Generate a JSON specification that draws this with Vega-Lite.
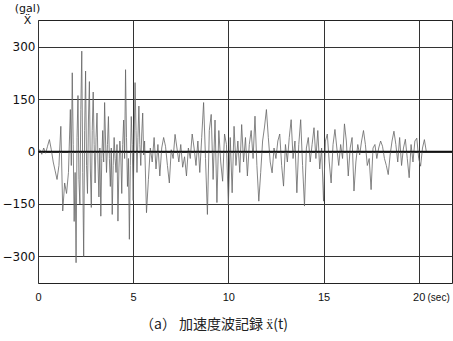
{
  "$schema": "https://vega.github.io/schema/vega-lite/v6.json",
  "width": 414,
  "height": 263,
  "autosize": "none",
  "padding": {"left": 38, "top": 20, "right": 1, "bottom": 58},
  "background": "white",
  "config": {
    "view": {"stroke": "#222", "strokeWidth": 1},
    "font": "Liberation Sans"
  },
  "title": {
    "text": "（a） 加速度波記録 ẍ(t)",
    "orient": "bottom",
    "anchor": "middle",
    "dx": -31,
    "font": "Noto Sans CJK JP",
    "fontSize": 14,
    "fontWeight": "normal",
    "color": "#222",
    "offset": 16
  },
  "data": {"values": [
    {"t":0.0,"a":0},{"t":0.1,"a":5},{"t":0.2,"a":-8},{"t":0.3,"a":10},{"t":0.4,"a":-5},{"t":0.5,"a":15},{"t":0.6,"a":34},{"t":0.7,"a":5},{"t":0.8,"a":-30},{"t":0.9,"a":-55},
    {"t":1.0,"a":-80},{"t":1.1,"a":-40},{"t":1.2,"a":72},{"t":1.3,"a":-170},{"t":1.4,"a":-90},{"t":1.5,"a":-120},{"t":1.6,"a":-60},{"t":1.7,"a":120},{"t":1.75,"a":-40},{"t":1.8,"a":225},{"t":1.85,"a":20},{"t":1.9,"a":-200},
    {"t":1.95,"a":-60},{"t":2.0,"a":-318},{"t":2.05,"a":40},{"t":2.1,"a":160},{"t":2.15,"a":-80},{"t":2.2,"a":-150},{"t":2.25,"a":120},{"t":2.3,"a":287},{"t":2.35,"a":-60},{"t":2.4,"a":-300},{"t":2.45,"a":60},{"t":2.5,"a":230},{"t":2.55,"a":-40},{"t":2.6,"a":-120},{"t":2.65,"a":90},{"t":2.7,"a":200},{"t":2.75,"a":-50},{"t":2.8,"a":-160},{"t":2.85,"a":60},{"t":2.9,"a":170},
    {"t":2.95,"a":20},{"t":3.0,"a":-90},{"t":3.05,"a":40},{"t":3.1,"a":110},{"t":3.15,"a":-30},{"t":3.2,"a":-130},{"t":3.25,"a":10},{"t":3.3,"a":-185},{"t":3.35,"a":-20},{"t":3.4,"a":60},{"t":3.45,"a":-30},{"t":3.5,"a":140},{"t":3.55,"a":30},{"t":3.6,"a":-60},{"t":3.65,"a":20},{"t":3.7,"a":100},{"t":3.75,"a":-20},{"t":3.8,"a":-100},{"t":3.85,"a":10},{"t":3.9,"a":-180},
    {"t":3.95,"a":-40},{"t":4.0,"a":40},{"t":4.05,"a":-20},{"t":4.1,"a":-60},{"t":4.15,"a":20},{"t":4.2,"a":-199},{"t":4.25,"a":-50},{"t":4.3,"a":30},{"t":4.35,"a":-10},{"t":4.4,"a":-120},{"t":4.45,"a":20},{"t":4.5,"a":90},{"t":4.55,"a":-20},{"t":4.6,"a":234},{"t":4.65,"a":40},{"t":4.7,"a":-100},{"t":4.75,"a":-20},{"t":4.8,"a":-251},{"t":4.85,"a":-40},{"t":4.9,"a":100},
    {"t":4.95,"a":20},{"t":5.0,"a":-140},{"t":5.05,"a":30},{"t":5.1,"a":197},{"t":5.15,"a":60},{"t":5.2,"a":-60},{"t":5.25,"a":40},{"t":5.3,"a":130},{"t":5.35,"a":20},{"t":5.4,"a":-40},{"t":5.45,"a":50},{"t":5.5,"a":110},{"t":5.55,"a":-10},{"t":5.6,"a":30},{"t":5.7,"a":-175},{"t":5.8,"a":-80},{"t":5.9,"a":10},
    {"t":6.0,"a":-30},{"t":6.1,"a":40},{"t":6.2,"a":-50},{"t":6.3,"a":20},{"t":6.4,"a":-70},{"t":6.5,"a":10},{"t":6.6,"a":40},{"t":6.7,"a":15},{"t":6.8,"a":-40},{"t":6.9,"a":-90},
    {"t":7.0,"a":5},{"t":7.1,"a":-20},{"t":7.2,"a":49},{"t":7.3,"a":10},{"t":7.4,"a":-30},{"t":7.5,"a":20},{"t":7.6,"a":-45},{"t":7.7,"a":-15},{"t":7.8,"a":-70},{"t":7.9,"a":10},
    {"t":8.0,"a":-20},{"t":8.1,"a":50},{"t":8.2,"a":10},{"t":8.3,"a":-40},{"t":8.4,"a":30},{"t":8.5,"a":-60},{"t":8.6,"a":40},{"t":8.7,"a":140},{"t":8.8,"a":-20},{"t":8.9,"a":-180},
    {"t":9.0,"a":60},{"t":9.1,"a":106},{"t":9.2,"a":-80},{"t":9.3,"a":90},{"t":9.4,"a":-146},{"t":9.5,"a":60},{"t":9.6,"a":-30},{"t":9.7,"a":-85},{"t":9.8,"a":50},{"t":9.9,"a":20},
    {"t":10.0,"a":-151},{"t":10.1,"a":40},{"t":10.2,"a":-118},{"t":10.3,"a":72},{"t":10.4,"a":-40},{"t":10.5,"a":30},{"t":10.6,"a":-60},{"t":10.7,"a":77},{"t":10.8,"a":-30},{"t":10.9,"a":40},
    {"t":11.0,"a":-70},{"t":11.1,"a":20},{"t":11.2,"a":60},{"t":11.3,"a":-20},{"t":11.4,"a":101},{"t":11.5,"a":-40},{"t":11.6,"a":-142},{"t":11.7,"a":-60},{"t":11.8,"a":30},{"t":11.9,"a":70},
    {"t":12.0,"a":120},{"t":12.1,"a":40},{"t":12.2,"a":-30},{"t":12.3,"a":-61},{"t":12.4,"a":10},{"t":12.5,"a":-20},{"t":12.6,"a":30},{"t":12.7,"a":50},{"t":12.8,"a":-40},{"t":12.9,"a":-99},
    {"t":13.0,"a":20},{"t":13.1,"a":-30},{"t":13.2,"a":40},{"t":13.3,"a":91},{"t":13.4,"a":-20},{"t":13.5,"a":30},{"t":13.6,"a":-118},{"t":13.7,"a":20},{"t":13.8,"a":91},{"t":13.9,"a":-40},
    {"t":14.0,"a":-156},{"t":14.1,"a":10},{"t":14.2,"a":40},{"t":14.3,"a":-30},{"t":14.4,"a":20},{"t":14.5,"a":68},{"t":14.6,"a":-20},{"t":14.7,"a":60},{"t":14.8,"a":-50},{"t":14.9,"a":10},
    {"t":15.0,"a":-142},{"t":15.1,"a":30},{"t":15.2,"a":50},{"t":15.3,"a":-30},{"t":15.4,"a":-90},{"t":15.5,"a":20},{"t":15.6,"a":63},{"t":15.7,"a":10},{"t":15.8,"a":-40},{"t":15.9,"a":20},
    {"t":16.0,"a":-20},{"t":16.1,"a":79},{"t":16.2,"a":30},{"t":16.3,"a":-70},{"t":16.4,"a":10},{"t":16.5,"a":40},{"t":16.6,"a":-113},{"t":16.7,"a":-30},{"t":16.8,"a":20},{"t":16.9,"a":-10},
    {"t":17.0,"a":30},{"t":17.1,"a":60},{"t":17.2,"a":20},{"t":17.3,"a":-40},{"t":17.4,"a":-20},{"t":17.5,"a":-109},{"t":17.6,"a":10},{"t":17.7,"a":20},{"t":17.8,"a":-20},{"t":17.9,"a":10},
    {"t":18.0,"a":30},{"t":18.1,"a":15},{"t":18.2,"a":-20},{"t":18.3,"a":-40},{"t":18.4,"a":-66},{"t":18.5,"a":-10},{"t":18.6,"a":30},{"t":18.7,"a":58},{"t":18.8,"a":20},{"t":18.9,"a":-30},
    {"t":19.0,"a":40},{"t":19.1,"a":-40},{"t":19.2,"a":10},{"t":19.3,"a":35},{"t":19.4,"a":-20},{"t":19.5,"a":-75},{"t":19.6,"a":20},{"t":19.7,"a":-30},{"t":19.8,"a":30},{"t":19.9,"a":38},
    {"t":20.0,"a":-20},{"t":20.1,"a":-42},{"t":20.2,"a":10},{"t":20.3,"a":34},{"t":20.4,"a":0}
  ]},
  "layer": [
    {
      "mark": {"type": "line", "color": "#666", "strokeWidth": 0.8},
      "encoding": {
        "x": {
          "field": "t", "type": "quantitative",
          "scale": {"domain": [0, 21.75], "nice": false, "zero": false},
          "axis": {
            "values": [0, 5, 10, 15, 20],
            "title": "(sec)",
            "titleX": 389, "titleY": 14,
            "titleAlign": "left", "titleBaseline": "middle", "titleAnchor": null,
            "titleFontSize": 10, "titleFontWeight": "normal", "titleColor": "#111",
            "grid": true, "gridColor": "#333", "gridWidth": 1, "gridOpacity": 1,
            "domain": false, "ticks": false,
            "labelFontSize": 11, "labelColor": "#111", "labelPadding": 8,
            "labelFlush": false
          }
        },
        "y": {
          "field": "a", "type": "quantitative",
          "scale": {"domain": [-376, 376], "nice": false},
          "axis": {
            "values": [-300, -150, 0, 150, 300],
            "title": ["(gal)", "Ẍ"],
            "titleAngle": 0, "titleAlign": "center", "titleBaseline": "top",
            "titleX": -11, "titleY": -18,
            "titleFont": "DejaVu Sans",
            "titleFontSize": 11, "titleFontWeight": "normal", "titleColor": "#111", "titleLineHeight": 12,
            "grid": true, "gridColor": "#333", "gridWidth": 1, "gridOpacity": 1,
            "domain": false, "ticks": false,
            "labelFont": "DejaVu Sans",
            "labelFontSize": 12, "labelColor": "#111", "labelPadding": 3
          }
        }
      }
    },
    {
      "data": {"values": [{"z": 0}]},
      "mark": {"type": "rule", "color": "#111", "strokeWidth": 1.5},
      "encoding": {"y": {"field": "z", "type": "quantitative"}}
    }
  ]
}
